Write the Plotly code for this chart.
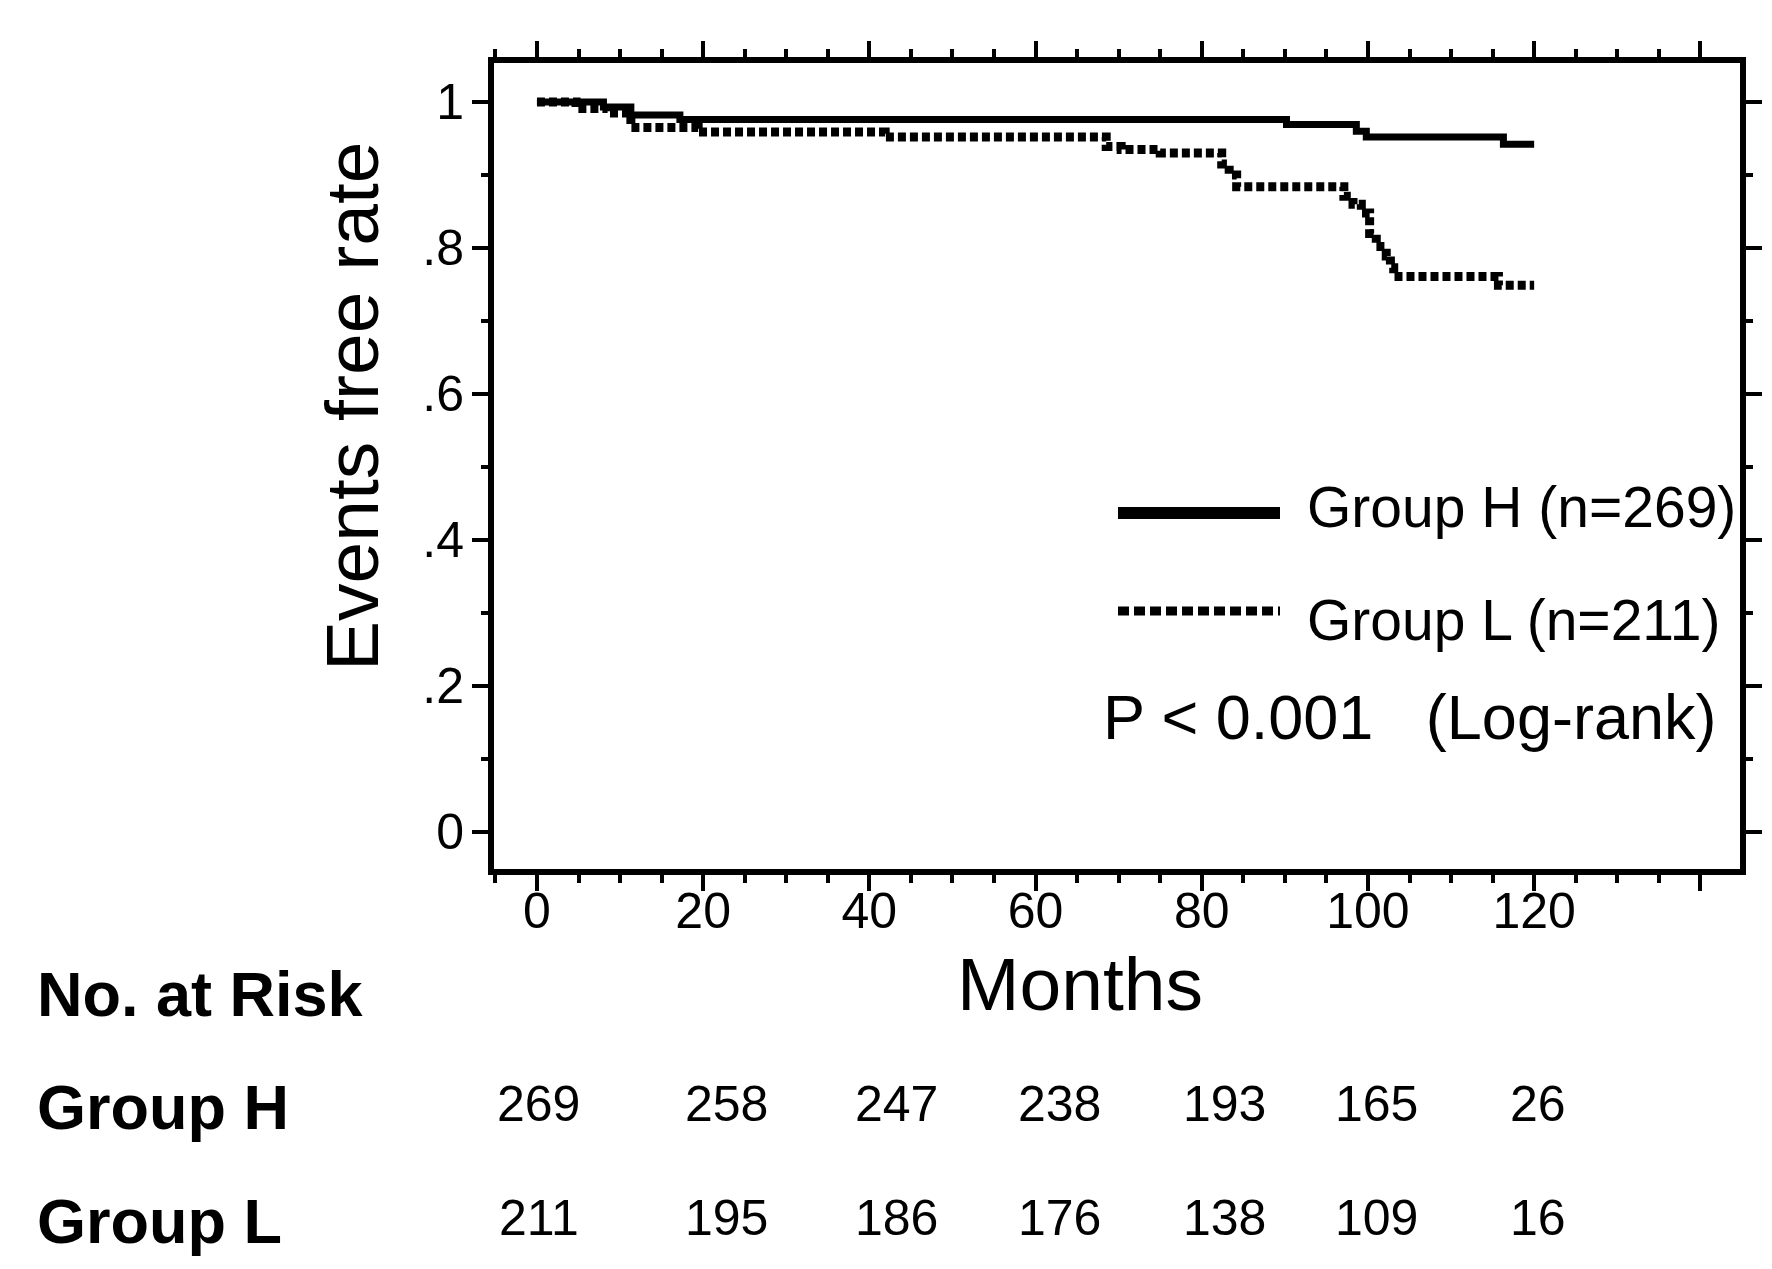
import plotly.graph_objects as go

# ---- data ----
h_months = [0, 8, 11.3, 17.2, 90.2, 98.6, 99.8, 116.3, 120]
h_rate = [1.0, 0.993, 0.982, 0.976, 0.969, 0.960, 0.952, 0.942, 0.942]

l_months = [0, 4.7, 8.5, 11.3, 19.4, 41.9, 68.5, 70.3, 75, 82.4, 83.3, 84.2,
            97.1, 98.2, 99.2, 100.2, 101, 102.2, 102.7, 103.1, 115.7, 120]
l_rate = [1.0, 0.991, 0.985, 0.965, 0.959, 0.952, 0.939, 0.935, 0.930, 0.915, 0.900, 0.884,
          0.871, 0.860, 0.848, 0.820, 0.802, 0.789, 0.773, 0.761, 0.749, 0.749]

x_tickvals = [0, 20, 40, 60, 80, 100, 120, 140]
x_ticktext = ["0", "20", "40", "60", "80", "100", "120", ""]
y_tickvals = [0, 0.2, 0.4, 0.6, 0.8, 1.0]
y_ticktext = ["0", ".2", ".4", ".6", ".8", "1"]

risk_months = [0, 20, 40, 60, 80, 100, 120]
risk_h = [269, 258, 247, 238, 193, 165, 26]
risk_l = [211, 195, 186, 176, 138, 109, 16]

legend_h = "Group H (n=269)"
legend_l = "Group L (n=211)"
p_text = "P < 0.001   (Log-rank)"

# ---- layout geometry ----
W, H = 1772, 1269
ML, MR, MT, MB = 486, 40, 55, 408
PW = W - ML - MR
PH = H - MT - MB
FONT = "Liberation Sans, Arial, sans-serif"


def px(x):
    return (x - ML) / PW


def py(y):
    return (H - MB - y) / PH


risk_shift = [2, 23, 27, 24, 23, 9, 4]

fig = go.Figure()
fig.add_trace(go.Scatter(x=h_months, y=h_rate, mode="lines", line_shape="hv",
                         line=dict(color="black", width=7), showlegend=False))
fig.add_trace(go.Scatter(x=l_months, y=l_rate, mode="lines", line_shape="hv",
                         line=dict(color="black", width=9, dash="8px,4px"), showlegend=False))

axis_common = dict(showline=True, linecolor="black", linewidth=6, mirror="ticks",
                   ticks="outside", tickcolor="black", tickwidth=4,
                   showgrid=False, zeroline=False,
                   tickfont=dict(family=FONT, size=50, color="black"))

fig.update_xaxes(range=[-5.17, 144.77], tickvals=x_tickvals, ticktext=x_ticktext,
                 ticklen=16, ticklabelstandoff=-23,
                 minor=dict(ticks="outside", dtick=5, tick0=0, ticklen=8, tickwidth=4,
                            tickcolor="black", showgrid=False),
                 **axis_common)
fig.update_yaxes(range=[-0.0507, 1.0534], tickvals=y_tickvals, ticktext=y_ticktext,
                 ticklen=16, ticklabelstandoff=-2,
                 minor=dict(ticks="outside", dtick=0.1, tick0=0, ticklen=7, tickwidth=4,
                            tickcolor="black", showgrid=False),
                 **axis_common)

ann = []
# axis titles
ann.append(dict(x=px(344), y=py(399), xref="paper", yref="paper", text="Events free rate",
                textangle=-90, showarrow=False, xanchor="center", yanchor="middle",
                font=dict(family=FONT, size=75, color="black")))
ann.append(dict(x=px(1072), y=py(976), xref="paper", yref="paper", text="Months",
                showarrow=False, xanchor="center", yanchor="middle",
                font=dict(family=FONT, size=75, color="black")))
# legend texts
ann.append(dict(x=px(1297), y=py(499), xref="paper", yref="paper", text=legend_h,
                showarrow=False, xanchor="left", yanchor="middle",
                font=dict(family=FONT, size=57, color="black")))
ann.append(dict(x=px(1297), y=py(612), xref="paper", yref="paper", text=legend_l,
                showarrow=False, xanchor="left", yanchor="middle",
                font=dict(family=FONT, size=57, color="black")))
ann.append(dict(x=px(1710), y=py(709), xref="paper", yref="paper", text=p_text,
                showarrow=False, xanchor="right", yanchor="middle",
                font=dict(family=FONT, size=63, color="black")))
# risk table labels
for label, yy in [("No. at Risk", 986), ("Group H", 1099), ("Group L", 1213)]:
    ann.append(dict(x=px(27), y=py(yy), xref="paper", yref="paper", text="<b>" + label + "</b>",
                    showarrow=False, xanchor="left", yanchor="middle",
                    font=dict(family=FONT, size=63, color="black")))
for m, vh, vl, sh in zip(risk_months, risk_h, risk_l, risk_shift):
    ann.append(dict(x=m, y=py(1096), xref="x", yref="paper", text=str(vh), xshift=sh,
                    showarrow=False, xanchor="center", yanchor="middle",
                    font=dict(family=FONT, size=50, color="black")))
    ann.append(dict(x=m, y=py(1210), xref="x", yref="paper", text=str(vl), xshift=sh,
                    showarrow=False, xanchor="center", yanchor="middle",
                    font=dict(family=FONT, size=50, color="black")))

shapes = [
    dict(type="line", xref="paper", yref="paper", x0=px(1110), x1=px(1272), y0=py(505), y1=py(505),
         line=dict(color="black", width=12)),
    dict(type="line", xref="paper", yref="paper", x0=px(1110), x1=px(1272), y0=py(603), y1=py(603),
         line=dict(color="black", width=9, dash="11px,5px")),
]

fig.update_layout(width=W, height=H, margin=dict(l=ML, r=MR, t=MT, b=MB, autoexpand=False),
                  paper_bgcolor="white", plot_bgcolor="white",
                  annotations=ann, shapes=shapes, showlegend=False)

fig.write_html("out.html")
